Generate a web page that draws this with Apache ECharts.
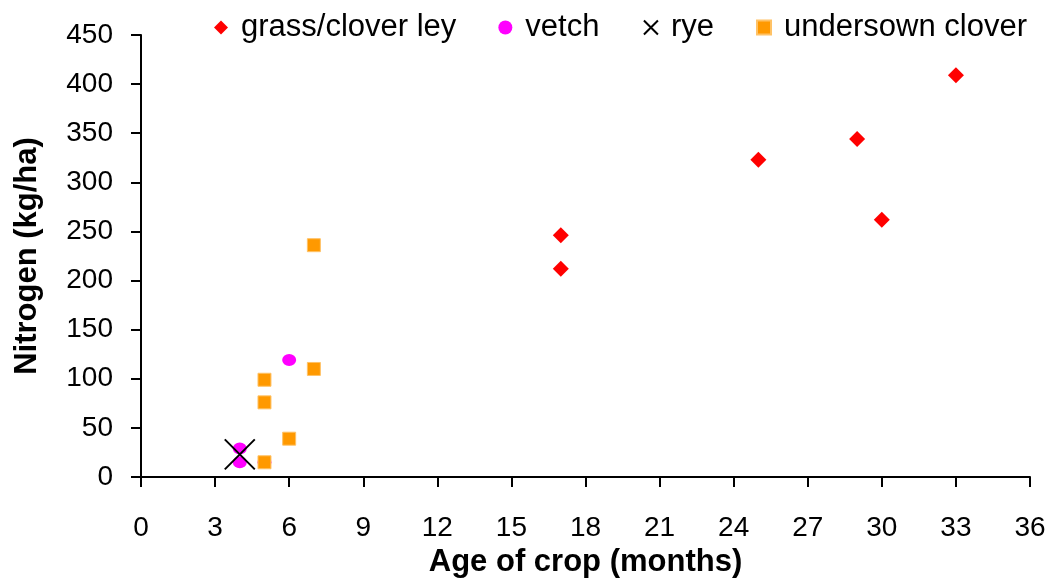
<!DOCTYPE html>
<html>
<head>
<meta charset="utf-8">
<script src="https://cdn.jsdelivr.net/npm/echarts@6/dist/echarts.min.js"></script>
<style>
  html, body { margin: 0; padding: 0; background: #fff; }
  #chart { width: 1056px; height: 579px; }
</style>
</head>
<body>
<div id="chart"></div>
<script>
// age of crop (months) / nitrogen (kg/ha)
const grassAge = [17, 17, 25, 29, 30, 33];
const grassN = [246, 212, 323, 344, 262, 409];
const vetchAge = [4, 4, 5, 6];
const vetchN = [29, 15, 15, 119];
const ryeAge = [4];
const ryeN = [23];
const underAge = [5, 5, 5, 6, 7, 7];
const underN = [99, 76, 15, 39, 110, 236];
const xTicks = [0, 3, 6, 9, 12, 15, 18, 21, 24, 27, 30, 33, 36];

const crossPath = 'path://M0,0L10,10M10,0L0,10';

function pairs(xs, ys) {
    return xs.map((x, i) => [x, ys[i]]);
}

var myChart = echarts.init(document.getElementById('chart'));
var option = {
    animation: false,
    textStyle: { fontFamily: 'Liberation Sans, Arial, sans-serif' },
    grid: { left: 141, right: 26, top: 35, bottom: 102, outerBoundsMode: 'none', containLabel: false },
    legend: {
        top: 7,
        left: 209,
        itemGap: 42,
        itemWidth: 14,
        itemHeight: 14,
        textStyle: { fontSize: 31, color: '#000', padding: [0, 0, 0, 8] },
        data: [
            { name: 'grass/clover ley', icon: 'diamond' },
            { name: 'vetch', icon: 'circle' },
            { name: 'rye', icon: crossPath, itemStyle: { color: 'none', borderColor: '#000', borderWidth: 2 } },
            { name: 'undersown clover', icon: 'rect' }
        ]
    },
    xAxis: {
        type: 'value',
        min: 0,
        max: 36,
        interval: 3,
        name: 'Age of crop (months)',
        nameLocation: 'middle',
        nameGap: 66,
        nameTextStyle: { fontSize: 31, fontWeight: 'bold', color: '#000' },
        axisLine: { onZero: false, lineStyle: { color: '#000', width: 2 } },
        axisTick: { show: true, length: 10, lineStyle: { color: '#000', width: 2 } },
        axisLabel: {
            fontSize: 28, color: '#000', margin: 37,
            formatter: function (v) { return xTicks.indexOf(v) >= 0 ? String(v) : ''; }
        },
        splitLine: { show: false }
    },
    yAxis: {
        type: 'value',
        min: 0,
        max: 450,
        interval: 50,
        name: 'Nitrogen (kg/ha)',
        nameLocation: 'middle',
        nameGap: 98,
        nameRotate: 90,
        nameTextStyle: { fontSize: 31, fontWeight: 'bold', color: '#000' },
        axisLine: { show: true, lineStyle: { color: '#000', width: 2 } },
        axisTick: { show: true, length: 10, lineStyle: { color: '#000', width: 2 } },
        axisLabel: { fontSize: 28, color: '#000', margin: 28, padding: [6, 0, 0, 0] },
        splitLine: { show: false }
    },
    series: [
        {
            name: 'grass/clover ley',
            type: 'scatter',
            symbol: 'diamond',
            symbolSize: 16,
            itemStyle: { color: '#FF0000', opacity: 1 },
            data: pairs(grassAge, grassN)
        },
        {
            name: 'vetch',
            type: 'scatter',
            symbol: 'circle',
            symbolSize: [14, 12],
            itemStyle: { color: '#FF00FF', opacity: 1 },
            data: pairs(vetchAge, vetchN)
        },
        {
            name: 'rye',
            type: 'scatter',
            symbol: crossPath,
            symbolSize: 30,
            itemStyle: { color: 'none', borderColor: '#000', borderWidth: 2, opacity: 1 },
            data: pairs(ryeAge, ryeN)
        },
        {
            name: 'undersown clover',
            type: 'scatter',
            symbol: 'rect',
            symbolSize: 13,
            itemStyle: { color: '#FF9900', borderColor: '#FFC266', borderWidth: 1, opacity: 1 },
            data: pairs(underAge, underN)
        }
    ]
};
myChart.setOption(option);
</script>
</body>
</html>
